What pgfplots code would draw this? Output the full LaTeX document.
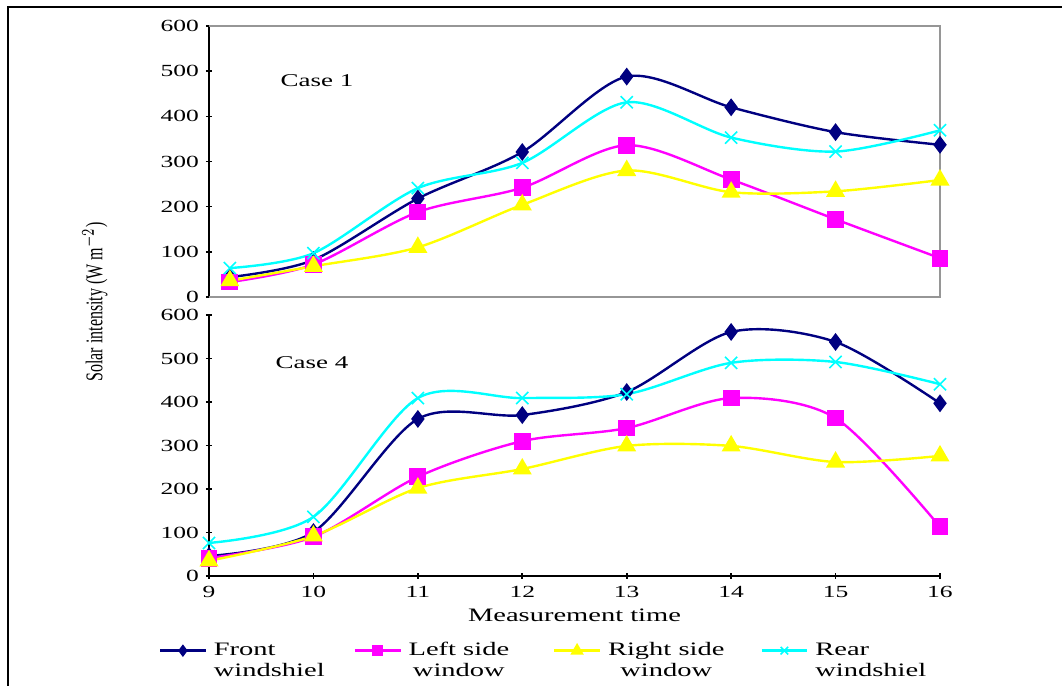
\documentclass[border=0pt]{standalone}
\usepackage{fontspec}
\setmainfont[FakeStretch=1.5]{Liberation Serif}
\newfontfamily\ylabfont{Liberation Serif}
\usepackage{pgfplots}
\pgfplotsset{compat=1.18}
\definecolor{cnavy}{RGB}{0,0,128}
\definecolor{cmag}{RGB}{255,0,255}
\definecolor{cyel}{RGB}{255,255,0}
\definecolor{ccyan}{RGB}{0,255,255}
\definecolor{frame}{RGB}{150,150,150}
\pgfplotsset{
  common/.style={
    scale only axis, width=365.5pt, xmin=9, xmax=16, ymin=0, ymax=600,
    ytick={0,100,...,600}, clip=false,
    tick label style={font=\fontsize{8.5}{10}\selectfont},
    /pgf/number format/assume math mode=true,
    tick align=outside, major tick length=3pt,
    tick style={black, line width=0.8pt},
    legend image code/.code={\draw[mark repeat=2,mark phase=2,##1,every mark/.append style={scale=0.62}] plot coordinates {(0cm,5.2pt) (0.4cm,5.2pt) (0.8cm,5.2pt)};},
  },
  sfront/.style={cnavy, line width=1.2pt, smooth, tension=0.5, mark=diamond*, mark size=3.5pt, mark options={solid, fill=cnavy}},
  sleft/.style={cmag, line width=1.2pt, smooth, tension=0.5, mark=square*, mark size=3.6pt, mark options={solid, fill=cmag}},
  sright/.style={cyel, line width=1.2pt, smooth, tension=0.5, mark=triangle*, mark size=4.3pt, mark options={solid, fill=cyel}},
  srear/.style={ccyan, line width=1.2pt, smooth, tension=0.5, mark=x, mark size=4.3pt, mark options={solid, line width=0.8pt}},
}
\begin{document}
\begin{tikzpicture}[x=1pt,y=1pt]
\path[use as bounding box] (0,0) rectangle (531,343);
\draw[line width=1pt] (4,0) -- (4,339.5) -- (531,339.5);

% Case 1
\begin{axis}[common, at={(104.5pt,194.5pt)}, anchor=south west, height=135.5pt,
  axis y line=left, axis x line=none, axis line style={-, black, line width=1.2pt}]
\draw[frame, line width=0.7pt] (rel axis cs:0,1) -- (rel axis cs:1,1) -- (rel axis cs:1,0) -- (rel axis cs:0,0);
\addplot[sfront] coordinates {(9.2,44) (10,82) (11,218) (12,321) (13,488) (14,420) (15,365) (16,337)};
\addplot[sleft] coordinates {(9.2,33) (10,72) (11,188) (12,242) (13,336) (14,260) (15,172) (16,86)};
\addplot[sright] coordinates {(9.2,36) (10,68) (11,110) (12,204) (13,280) (14,232) (15,234) (16,259)};
\addplot[srear] coordinates {(9.2,64) (10,97) (11,241) (12,297) (13,431) (14,353) (15,322) (16,369)};
\end{axis}

% Case 4
\begin{axis}[common, at={(104.5pt,55pt)}, anchor=south west, height=130.5pt,
  axis lines=left, axis line style={-, black, line width=1.2pt}, xtick={9,...,16},
  xlabel={Measurement time},
  xlabel style={font=\fontsize{9.5}{11}\selectfont, at={(axis description cs:0.5,-0.15)}, anchor=center},
  legend columns=4, legend cell align=left,
  legend style={at={(rel axis cs:-0.069,-0.2375)}, anchor=north west, draw=none, fill=none, inner sep=0pt,
    font=\fontsize{9.5}{10.5}\selectfont, cells={align=left},
    /tikz/every odd column/.append style={column sep=1.5pt},
    /tikz/column 2/.append style={column sep=12.5pt},
    /tikz/column 4/.append style={column sep=20pt},
    /tikz/column 6/.append style={column sep=16pt}}]
\addplot[sfront] coordinates {(9,46) (10,101) (11,361) (12,370) (13,423) (14,561) (15,538) (16,397)};
\addlegendentry{Front\\windshiel}
\addplot[sleft] coordinates {(9,41) (10,90) (11,228) (12,310) (13,340) (14,409) (15,363) (16,113)};
\addlegendentry[align=center]{Left side\\window}
\addplot[sright] coordinates {(9,35) (10,92) (11,202) (12,246) (13,299) (14,299) (15,262) (16,276)};
\addlegendentry[align=center]{Right side\\window}
\addplot[srear] coordinates {(9,76) (10,136) (11,409) (12,409) (13,418) (14,490) (15,492) (16,441)};
\addlegendentry{Rear\\windshiel}
\end{axis}

\node[font=\fontsize{9}{11}\selectfont] at (158.5,302.5) {Case 1};
\node[font=\fontsize{9}{11}\selectfont] at (156,161.5) {Case 4};
\node at (47.5,192) {\rotatebox{90}{\scalebox{1}[1.5]{\ylabfont\fontsize{8}{9}\selectfont Solar intensity (W m$^{-2}$)}}};
\end{tikzpicture}
\end{document}
